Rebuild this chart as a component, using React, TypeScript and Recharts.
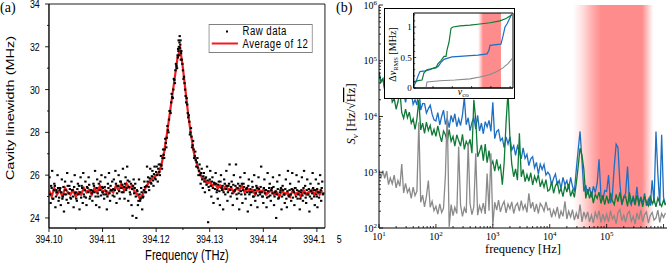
import {
  ComposedChart, LineChart, Line, Scatter, XAxis, YAxis, ReferenceArea,
} from 'recharts';

const SANS = "'Liberation Sans', Arial, sans-serif";
const SERIF = "'Liberation Serif', 'Times New Roman', serif";
// panel (a) looks horizontally squeezed in the source figure
const SQUEEZE = 0.77;

const RED = '#f21c1c';
const BLUE = '#1c6fc2';
const GREEN = '#0f7a36';
const GRAY = '#8a8a8a';
const BAND = '#ff8c8c';

// ---------- (a) cavity linewidth ----------
const avgFreq = [
  394.1, 394.1005, 394.101, 394.1015, 394.102, 394.1025, 394.103, 394.1035, 394.104, 394.1045,
  394.105, 394.1055, 394.106, 394.1065, 394.107, 394.1075, 394.108, 394.1085, 394.109, 394.1095,
  394.11, 394.1105, 394.111, 394.1115, 394.112, 394.1125, 394.113, 394.1135, 394.114, 394.1145,
  394.115, 394.1155, 394.116, 394.1165, 394.117, 394.1175, 394.118, 394.1185, 394.119, 394.1195,
  394.12, 394.1205, 394.121, 394.1215, 394.122, 394.1225, 394.123, 394.1235, 394.124, 394.1245,
  394.125, 394.1255, 394.126, 394.1265, 394.127, 394.1275, 394.128, 394.1285, 394.129, 394.1295,
  394.13, 394.1305, 394.131, 394.1315, 394.132, 394.1325, 394.133, 394.1335, 394.134, 394.1345,
  394.135, 394.1355, 394.136, 394.1365, 394.137, 394.1375, 394.138, 394.1385, 394.139, 394.1395,
  394.14, 394.1405, 394.141, 394.1415, 394.142, 394.1425, 394.143, 394.1435, 394.144, 394.1445,
  394.145, 394.1455, 394.146, 394.1465, 394.147, 394.1475, 394.148, 394.1485, 394.149, 394.1495,
  394.15, 394.1505, 394.151,
];
const avgWidth = [
  25.3, 25.0, 25.4, 25.1, 25.3, 25.0, 25.4, 25.2, 25.1, 25.3,
  25.0, 25.2, 25.1, 25.4, 25.2, 25.3, 25.1, 25.4, 25.2, 25.5,
  25.2, 25.3, 25.1, 25.3, 25.2, 25.5, 25.3, 25.6, 25.3, 25.6,
  25.4, 25.5, 25.2, 25.1, 24.9, 25.1, 25.4, 25.6, 25.8, 25.9,
  26.0, 26.1, 26.5, 27.1, 27.9, 28.8, 29.7, 30.6, 31.5, 31.9,
  31.0, 29.9, 28.8, 27.9, 27.1, 26.6, 26.2, 25.9, 25.8, 25.6,
  25.7, 25.5, 25.6, 25.4, 25.5, 25.3, 25.5, 25.3, 25.4, 25.2,
  25.4, 25.3, 25.5, 25.2, 25.4, 25.2, 25.3, 25.1, 25.4, 25.2,
  25.3, 25.1, 25.2, 25.3, 25.1, 25.2, 25.0, 25.3, 25.1, 25.2,
  25.0, 25.3, 25.1, 25.2, 25.0, 25.3, 25.1, 25.2, 25.3, 25.1,
  25.3, 25.1, 25.3,
];

// raw points: spread-out samples first, then samples close to the average
const rawFreq = [
  394.1001, 394.1003, 394.1004, 394.1006, 394.1008, 394.101, 394.1012, 394.1014, 394.1016, 394.1018,
  394.1021, 394.1022, 394.1024, 394.1026, 394.1028, 394.103, 394.1032, 394.1034, 394.1036, 394.1038,
  394.1041, 394.1042, 394.1044, 394.1046, 394.1048, 394.105, 394.1052, 394.1054, 394.1057, 394.1059,
  394.1061, 394.1063, 394.1064, 394.1066, 394.1068, 394.107, 394.1072, 394.1074, 394.1076, 394.1078,
  394.1081, 394.1083, 394.1085, 394.1086, 394.1088, 394.109, 394.1092, 394.1094, 394.1096, 394.1098,
  394.1101, 394.1103, 394.1105, 394.1106, 394.1108, 394.111, 394.1112, 394.1114, 394.1116, 394.1118,
  394.1121, 394.1122, 394.1124, 394.1126, 394.1128, 394.113, 394.1132, 394.1134, 394.1136, 394.1138,
  394.1141, 394.1143, 394.1145, 394.1146, 394.1148, 394.115, 394.1152, 394.1154, 394.1156, 394.1158,
  394.1161, 394.1163, 394.1164, 394.1166, 394.1168, 394.117, 394.1172, 394.1174, 394.1176, 394.1178,
  394.1181, 394.1183, 394.1185, 394.1187, 394.1189, 394.1191, 394.1193, 394.1195, 394.1197, 394.1199,
  394.1201, 394.1203, 394.1205, 394.1207, 394.1209, 394.1211, 394.1213, 394.1215, 394.1217, 394.1219,
  394.1221, 394.1223, 394.1225, 394.1227, 394.1229, 394.1231, 394.1233, 394.1235, 394.1237, 394.1239,
  394.1241, 394.1242, 394.1243, 394.1244, 394.1245, 394.1246, 394.1247, 394.1249, 394.1252, 394.1255,
  394.1257, 394.1259, 394.1261, 394.1263, 394.1265, 394.1267, 394.1269, 394.1271, 394.1273, 394.1275,
  394.1277, 394.1279, 394.1281, 394.1283, 394.1285, 394.1287, 394.1289, 394.1291, 394.1293, 394.1295,
  394.1297, 394.1299, 394.1301, 394.1303, 394.1305, 394.1307, 394.1309, 394.1311, 394.1313, 394.1315,
  394.1317, 394.1319, 394.1321, 394.1323, 394.1325, 394.1327, 394.1329, 394.1331, 394.1333, 394.1335,
  394.1337, 394.1339, 394.1341, 394.1343, 394.1345, 394.1347, 394.1349, 394.1351, 394.1353, 394.1355,
  394.1357, 394.1359, 394.1361, 394.1363, 394.1365, 394.1367, 394.1369, 394.1371, 394.1373, 394.1375,
  394.1377, 394.1379, 394.1381, 394.1383, 394.1385, 394.1387, 394.1389, 394.1391, 394.1393, 394.1396,
  394.1398, 394.14, 394.1402, 394.1404, 394.1406, 394.1408, 394.141, 394.1412, 394.1414, 394.1416,
  394.1418, 394.142, 394.1422, 394.1424, 394.1426, 394.1428, 394.143, 394.1432, 394.1434, 394.1436,
  394.1438, 394.144, 394.1442, 394.1444, 394.1446, 394.1448, 394.145, 394.1452, 394.1454, 394.1456,
  394.1458, 394.146, 394.1462, 394.1464, 394.1466, 394.1468, 394.147, 394.1472, 394.1474, 394.1476,
  394.1478, 394.148, 394.1482, 394.1484, 394.1486, 394.1488, 394.149, 394.1492, 394.1494, 394.1496,
  394.1498, 394.15, 394.1501, 394.1503, 394.1505, 394.1506, 394.1508, 394.1509, 394.151, 394.1511,
  394.1002, 394.1005, 394.1007, 394.1009, 394.1011, 394.1013, 394.1015, 394.1017, 394.1019, 394.102,
  394.1023, 394.1025, 394.1027, 394.1029, 394.1031, 394.1033, 394.1035, 394.1037, 394.1039, 394.104,
  394.1043, 394.1045, 394.1047, 394.1049, 394.1051, 394.1053, 394.1055, 394.1056, 394.1058, 394.106,
  394.1062, 394.1065, 394.1067, 394.1069, 394.1071, 394.1073, 394.1075, 394.1077, 394.1079, 394.108,
  394.1082, 394.1084, 394.1087, 394.1089, 394.1091, 394.1093, 394.1095, 394.1097, 394.1099, 394.11,
  394.1102, 394.1104, 394.1107, 394.1109, 394.1111, 394.1113, 394.1115, 394.1117, 394.1119, 394.112,
  394.1123, 394.1125, 394.1127, 394.1129, 394.1131, 394.1133, 394.1135, 394.1137, 394.1139, 394.114,
  394.1142, 394.1144, 394.1147, 394.1149, 394.1151, 394.1153, 394.1155, 394.1157, 394.1159, 394.116,
  394.1162, 394.1165, 394.1167, 394.1169, 394.1171, 394.1173, 394.1175, 394.1177, 394.1179, 394.118,
  394.1182, 394.1184, 394.1186, 394.1188, 394.119, 394.1192, 394.1194, 394.1196, 394.1198, 394.12,
  394.1202, 394.1204, 394.1206, 394.1208, 394.121, 394.1212, 394.1214, 394.1216, 394.1218, 394.122,
  394.1222, 394.1224, 394.1226, 394.1228, 394.123, 394.1232, 394.1234, 394.1236, 394.1238, 394.124,
  394.12405, 394.12415, 394.12425, 394.12435, 394.12445, 394.12455, 394.12465, 394.1248, 394.125, 394.1251,
  394.1253, 394.1254, 394.1256, 394.1258, 394.126, 394.1262, 394.1264, 394.1266, 394.1268, 394.127,
  394.1272, 394.1274, 394.1276, 394.1278, 394.128, 394.1282, 394.1284, 394.1286, 394.1288, 394.129,
  394.1292, 394.1294, 394.1296, 394.1298, 394.13, 394.1302, 394.1304, 394.1306, 394.1308, 394.131,
  394.1312, 394.1314, 394.1316, 394.1318, 394.132, 394.1322, 394.1324, 394.1326, 394.1328, 394.133,
  394.1332, 394.1334, 394.1336, 394.1338, 394.134, 394.1342, 394.1344, 394.1346, 394.1348, 394.135,
  394.1352, 394.1354, 394.1356, 394.1358, 394.136, 394.1362, 394.1364, 394.1366, 394.1368, 394.137,
  394.1372, 394.1374, 394.1376, 394.1378, 394.138, 394.1382, 394.1384, 394.1386, 394.1388, 394.139,
  394.1392, 394.1394, 394.1395, 394.1397, 394.1399, 394.1401, 394.1403, 394.1405, 394.1407, 394.1409,
  394.1411, 394.1413, 394.1415, 394.1417, 394.1419, 394.1421, 394.1423, 394.1425, 394.1427, 394.1429,
  394.1431, 394.1433, 394.1435, 394.1437, 394.1439, 394.1441, 394.1443, 394.1445, 394.1447, 394.1449,
  394.1451, 394.1453, 394.1455, 394.1457, 394.1459, 394.1461, 394.1463, 394.1465, 394.1467, 394.1469,
  394.1471, 394.1473, 394.1475, 394.1477, 394.1479, 394.1481, 394.1483, 394.1485, 394.1487, 394.1489,
  394.1491, 394.1493, 394.1495, 394.1497, 394.1499, 394.15005, 394.1502, 394.1504, 394.1507, 394.1512,
];
const rawWidth = [
  25.9, 24.7, 25.5, 26.2, 24.9, 25.6, 24.5, 25.3, 26.0, 24.8,
  25.4, 24.6, 25.8, 25.0, 24.3, 25.7, 25.1, 26.1, 24.7, 25.5,
  24.9, 25.7, 25.3, 24.5, 26.0, 25.2, 24.8, 25.6, 24.4, 25.9,
  25.5, 24.7, 26.1, 25.0, 25.7, 24.6, 25.4, 25.9, 24.9, 25.3,
  24.8, 25.6, 25.2, 26.2, 24.6, 25.8, 25.0, 24.5, 25.7, 26.0,
  25.4, 24.9, 25.9, 25.1, 24.4, 25.6, 26.1, 24.8, 25.3, 25.7,
  25.8, 25.0, 26.2, 24.7, 25.5, 26.0, 24.9, 25.7, 25.2, 26.3,
  24.9, 25.9, 25.4, 26.4, 24.8, 25.7, 25.1, 24.6, 24.1, 25.8,
  25.6, 24.0, 25.3, 24.6, 25.8, 24.8, 25.4, 24.4, 25.0, 25.7,
  25.2, 26.4, 25.9, 25.3, 26.3, 25.6, 26.2, 25.5, 26.4, 25.8,
  26.4, 25.7, 26.5, 26.0, 26.9, 26.3, 27.2, 26.8, 27.7, 27.3,
  28.3, 28.0, 29.0, 28.9, 29.8, 29.6, 30.5, 30.3, 31.2, 31.0,
  31.9, 32.3, 31.6, 32.5, 32.1, 31.4, 31.8, 31.2, 30.6, 29.7,
  29.6, 28.9, 28.8, 27.9, 28.2, 27.3, 27.6, 26.8, 27.1, 26.4,
  26.8, 26.0, 26.5, 25.6, 26.3, 25.4, 26.1, 25.2, 25.9, 26.4,
  23.8, 25.3, 26.2, 25.0, 25.9, 24.7, 25.6, 26.1, 25.2, 24.9,
  25.7, 24.6, 26.0, 25.3, 24.4, 25.8, 25.1, 26.2, 24.8, 25.5,
  26.5, 25.0, 25.7, 24.6, 26.0, 25.3, 26.5, 24.9, 25.6, 24.4,
  25.9, 25.1, 24.7, 25.6, 26.1, 24.9, 25.4, 24.3, 25.8, 25.2,
  24.6, 25.7, 25.0, 26.0, 24.8, 25.5, 24.5, 25.9, 25.2, 26.4,
  25.0, 24.7, 25.8, 25.3, 24.5, 26.1, 25.0, 25.6, 24.8, 25.4,
  25.9, 24.6, 25.2, 24.0, 25.7, 24.9, 26.0, 25.3, 24.4, 25.5,
  25.1, 24.7, 25.8, 24.5, 26.2, 25.0, 25.6, 24.8, 26.1, 25.3,
  24.6, 25.4, 26.0, 24.9, 25.7, 24.4, 25.2, 25.9, 24.8, 26.2,
  25.5, 24.7, 25.8, 25.1, 24.3, 25.6, 24.9, 26.1, 25.3, 24.6,
  25.8, 25.0, 24.5, 25.6, 25.2, 26.0, 24.8, 25.4, 25.7, 25.1,
  25.1, 25.4, 24.9, 25.3, 25.5, 25.0, 25.2, 25.4, 24.95, 25.3,
  25.2, 24.9, 25.45, 25.1, 25.3, 24.85, 25.5, 25.15, 25.35, 24.95,
  25.3, 25.0, 25.45, 25.15, 24.9, 25.35, 25.1, 25.5, 25.2, 24.95,
  25.4, 25.1, 25.3, 24.95, 25.45, 25.2, 25.55, 25.0, 25.3, 25.15,
  25.25, 25.5, 25.0, 25.4, 25.15, 25.6, 25.3, 25.05, 25.45, 25.2,
  25.1, 25.45, 25.25, 25.0, 25.4, 25.15, 25.5, 25.3, 25.05, 25.35,
  25.3, 25.6, 25.15, 25.5, 25.25, 25.7, 25.4, 25.55, 25.2, 25.45,
  25.6, 25.3, 25.75, 25.45, 25.2, 25.6, 25.35, 25.5, 25.15, 25.4,
  25.0, 25.25, 24.8, 25.1, 24.9, 25.2, 24.95, 25.3, 25.45, 25.2,
  25.5, 25.7, 25.45, 25.85, 25.65, 25.95, 25.75, 26.05, 25.85, 26.15,
  26.0, 26.3, 26.15, 26.5, 26.45, 26.8, 26.95, 27.2, 27.5, 27.75,
  28.1, 28.6, 29.0, 29.4, 29.65, 30.0, 30.45, 30.9, 31.1, 31.6,
  31.5, 31.8, 32.0, 32.2, 31.95, 32.3, 31.7, 31.4, 30.9, 30.5,
  30.3, 30.0, 29.4, 29.3, 28.7, 28.5, 28.0, 27.8, 27.4, 27.2,
  26.9, 26.7, 26.6, 26.35, 26.2, 26.0, 26.1, 25.8, 25.95, 25.7,
  25.85, 25.55, 25.75, 25.45, 25.8, 25.5, 25.7, 25.4, 25.65, 25.35,
  25.6, 25.3, 25.55, 25.25, 25.7, 25.4, 25.5, 25.2, 25.6, 25.35,
  25.5, 25.2, 25.6, 25.3, 25.45, 25.15, 25.55, 25.25, 25.5, 25.1,
  25.4, 25.15, 25.5, 25.25, 25.6, 25.3, 25.45, 25.1, 25.35, 25.2,
  25.5, 25.1, 25.35, 25.2, 25.45, 25.0, 25.3, 25.15, 25.4, 25.05,
  25.35, 25.1, 25.45, 25.2, 25.0, 25.4, 25.15, 25.3, 24.95, 25.25,
  25.4, 25.05, 25.3, 25.15, 25.45, 25.0, 25.25, 25.1, 25.35, 24.95,
  25.2, 25.4, 25.0, 25.3, 25.1, 25.35, 24.9, 25.25, 25.05, 25.3,
  25.1, 25.35, 24.95, 25.2, 25.4, 25.0, 25.3, 25.1, 25.25, 24.9,
  25.3, 25.05, 25.4, 25.15, 24.95, 25.3, 25.1, 25.35, 25.0, 25.25,
  25.15, 25.4, 25.0, 25.3, 25.1, 25.35, 25.2, 24.95, 25.3, 25.15,
];

const aFreqTicks = [394.1, 394.105, 394.11, 394.115, 394.12, 394.125, 394.13, 394.135, 394.14, 394.145, 394.15];
const aWidthTicks = [24, 25, 26, 27, 28, 29, 30, 31, 32, 33, 34];

// ---------- (b) frequency noise spectra ----------
const freqHz = [
  10, 10.8, 11.7, 12.6, 13.6, 14.7, 15.8, 17.1, 18.5, 20, 21.5, 23.3, 25.1, 27.1, 29.3, 31.6, 34.1, 36.9, 39.8, 43, 46.4, 50.1, 54.1, 58.4, 63.1, 68.1, 73.6, 79.4, 85.8, 92.6,
  100, 108, 117, 126, 136, 147, 158, 171, 185, 200, 215, 233, 251, 271, 293, 316, 341, 369, 398, 430, 464, 501, 541, 584, 631, 681, 736, 794, 858, 926,
  1000, 1080, 1170, 1260, 1360, 1470, 1580, 1710, 1850, 2000, 2150, 2330, 2510, 2710, 2930, 3160, 3410, 3690, 3980, 4300, 4640, 5010, 5410, 5840, 6310, 6810, 7360, 7940, 8580, 9260,
  1e4, 1.08e4, 1.17e4, 1.26e4, 1.36e4, 1.47e4, 1.58e4, 1.71e4, 1.85e4, 2e4, 2.15e4, 2.33e4, 2.51e4, 2.71e4, 2.93e4, 3.16e4, 3.41e4, 3.69e4, 3.98e4, 4.3e4, 4.64e4, 5.01e4, 5.41e4, 5.84e4, 6.31e4, 6.81e4, 7.36e4, 7.94e4, 8.58e4, 9.26e4,
  1e5, 1.08e5, 1.17e5, 1.26e5, 1.36e5, 1.47e5, 1.58e5, 1.71e5, 1.85e5, 2e5, 2.15e5, 2.33e5, 2.51e5, 2.71e5, 2.93e5, 3.16e5, 3.41e5, 3.69e5, 3.98e5, 4.3e5, 4.64e5, 5.01e5, 5.41e5, 5.84e5, 6.31e5, 6.81e5, 7.36e5, 7.94e5, 8.58e5, 9.26e5,
  1e6, 1.08e6,
];
const psdBlue = [
  60000, 43000, 48000, 32000, 51000, 40000, 32000, 48000, 31000, 25000, 34000, 35000, 24000, 27000, 18000, 27000, 22000, 27000, 16500, 20000, 16000, 35000, 13000, 17000, 17000, 11500, 13800, 16000, 11000, 8700,
  8300, 11700, 7100, 10000, 13000, 7200, 9300, 6300, 10500, 7900, 11200, 6600, 9100, 6900, 10700, 22000, 7100, 9500, 5600, 7800, 9500, 6000, 10500, 5500, 7600, 4900, 8100, 6500, 8500, 5400,
  18000, 4000, 5400, 5800, 3700, 4100, 2750, 4300, 3200, 4300, 2500, 3000, 2000, 2950, 2350, 1740, 2750, 1780, 2100, 1320, 1740, 1900, 1200, 1500, 930, 1400, 1120, 1380, 890, 1000,
  890, 590, 780, 930, 600, 710, 510, 810, 590, 710, 500, 810, 560, 450, 1120, 2500, 5400, 1600, 450, 590, 400, 540, 355, 560, 430, 630, 1700, 380, 325, 470,
  450, 890, 280, 390, 1260, 3200, 2800, 630, 257, 370, 410, 1260, 310, 257, 380, 270, 550, 245, 365, 275, 420, 250, 330, 250, 720, 275, 5400, 950, 250, 4700,
  355, 263,
];
const psdGreen = [
  63000, 41000, 47000, 29500, 38000, 26300, 32400, 18200, 20900, 13500, 18200, 28000, 11700, 9300, 13500, 9500, 12000, 7600, 9100, 5900, 9100, 20000, 5750, 7600, 5000, 7900, 5600, 6900, 4600, 5900,
  4400, 6800, 4600, 3500, 5500, 4700, 3500, 5800, 3600, 4400, 2950, 4700, 3700, 2950, 4800, 2570, 3600, 3000, 3900, 2200, 20000, 8900, 1900, 2350, 3100, 1620, 3200, 1480, 2450, 1320,
  1580, 1050, 1700, 1120, 1320, 600, 1450, 7900, 28000, 4000, 1410, 830, 1150, 720, 5000, 830, 1120, 680, 910, 690, 980, 590, 850, 680, 910, 550, 710, 540, 740, 460,
  490, 680, 420, 575, 660, 430, 510, 365, 575, 440, 620, 370, 470, 355, 630, 1260, 2700, 2000, 1120, 340, 500, 340, 450, 280, 400, 340, 440, 275, 390, 263,
  380, 275, 425, 310, 263, 400, 295, 435, 270, 345, 370, 245, 435, 290, 340, 257, 390, 275, 355, 240, 365, 290, 250, 380, 270, 330, 240, 345, 280, 245,
  315, 257,
];
const psdGray = [
  1100, 780, 1070, 780, 1050, 600, 790, 620, 890, 525, 710, 560, 1400, 425, 630, 435, 510, 340, 540, 380, 460, 7900, 290, 390, 240, 370, 710, 235, 300, 205,
  245, 178, 270, 190, 225, 890, 12600, 105, 263, 166, 235, 182, 2900, 257, 162, 230, 186, 3300, 275, 174, 240, 2200, 170, 250, 195, 280, 178, 950, 205, 2200,
  112, 290, 210, 316, 195, 257, 300, 186, 270, 220, 295, 182, 250, 280, 200, 310, 214, 263, 190, 420, 225, 290, 195, 270, 182, 275, 245, 200, 295, 210,
  225, 155, 210, 170, 240, 148, 200, 162, 300, 145, 200, 158, 214, 138, 186, 145, 263, 129, 195, 151, 195, 129, 170, 123, 190, 151, 204, 126, 178, 135,
  178, 129, 204, 145, 166, 120, 190, 214, 135, 170, 126, 182, 200, 132, 162, 117, 186, 141, 209, 129, 174, 195, 123, 166, 190, 138, 151, 209, 126, 182,
  155, 186,
];

const freqMajorTicks = [10, 100, 1000, 1e4, 1e5, 1e6];
const freqMinorTicks = [
  20, 30, 40, 50, 60, 70, 80, 90, 200, 300, 400, 500, 600, 700, 800, 900,
  2000, 3000, 4000, 5000, 6000, 7000, 8000, 9000, 2e4, 3e4, 4e4, 5e4, 6e4, 7e4, 8e4, 9e4,
  2e5, 3e5, 4e5, 5e5, 6e5, 7e5, 8e5, 9e5,
];
const psdMajorTicks = [100, 1000, 1e4, 1e5, 1e6];
const psdMinorTicks = [
  200, 300, 400, 500, 600, 700, 800, 900, 2000, 3000, 4000, 5000, 6000, 7000, 8000, 9000,
  2e4, 3e4, 4e4, 5e4, 6e4, 7e4, 8e4, 9e4, 2e5, 3e5, 4e5, 5e5, 6e5, 7e5, 8e5, 9e5,
];

// inset: integrated RMS vs cut-off
const rmsGreenFreq = [10, 17, 27, 34, 49, 89, 143, 182, 260, 372, 472, 531, 675, 857, 1087, 2500, 8260, 27200, 90000, 295000, 605000, 1240000];
const rmsGreen = [0.10, 0.12, 0.13, 0.25, 0.30, 0.32, 0.33, 0.40, 0.45, 0.52, 0.52, 0.62, 0.75, 0.98, 1.00, 1.02, 1.03, 1.05, 1.07, 1.10, 1.14, 1.20];
const rmsBlueFreq = [10, 13, 17, 21, 38, 70, 113, 182, 260, 372, 598, 965, 2500, 8260, 21500, 63000, 80000, 90000, 184000, 333000, 424000, 540000, 680000, 870000, 1240000];
const rmsBlue = [0.03, 0.10, 0.20, 0.27, 0.28, 0.30, 0.33, 0.35, 0.42, 0.47, 0.49, 0.51, 0.52, 0.53, 0.54, 0.56, 0.62, 0.70, 0.71, 0.72, 0.85, 1.00, 1.05, 1.12, 1.22];
const rmsGrayFreq = [10, 43, 49, 231, 1380, 8260, 27200, 90000, 207000, 424000, 770000, 1240000];
const rmsGray = [0, 0, 0.10, 0.12, 0.13, 0.15, 0.18, 0.22, 0.27, 0.33, 0.40, 0.48];
const rmsTicks = [0, 0.1, 0.2, 0.3, 0.4, 0.5, 0.6, 0.7, 0.8, 0.9, 1, 1.1, 1.2];
const rmsMajorTicks = [0, 0.5, 1];

const AXIS = { stroke: '#000', strokeWidth: 1 };

// ---------- tick renderers ----------
function aFreqTick({ x, y, payload, index }: any) {
  const axisY = y - 7;
  const major = index % 2 === 0;
  const label = payload.value.toFixed(2);
  const last = index === aFreqTicks.length - 1;
  const t = { fontSize: 11.5, fontFamily: SANS, fill: '#000' };
  return (
    <g>
      <line x1={x} x2={x} y1={axisY} y2={axisY + (major ? 4 : 2)} stroke="#000" />
      {major && !last && <text x={x} y={y} dy="0.71em" textAnchor="middle" {...t}>{label}</text>}
      {last && <text x={x - 17.6} y={y} dy="0.71em" textAnchor="start" {...t}>{label.slice(0, 5)}</text>}
      {last && <text x={x + 25.7} y={y} dy="0.71em" textAnchor="start" {...t}>{label.slice(5)}</text>}
    </g>
  );
}

function aWidthTick({ x, y, payload }: any) {
  const axisX = x + 12;
  const major = payload.value % 2 === 0;
  return (
    <g>
      <line x1={axisX - (major ? 5 : 2.5)} x2={axisX} y1={y} y2={y} stroke="#000" />
      {major && (
        <text x={x} y={y} dy="0.36em" textAnchor="end" fontSize={11.5} fontFamily={SANS} fill="#000">{payload.value}</text>
      )}
    </g>
  );
}

const expOf = (v: number) => Math.round(Math.log10(v));

function bFreqTick({ x, y, payload }: any) {
  const v = payload.value;
  const major = freqMajorTicks.includes(v);
  const axisY = y - 4;
  return (
    <g>
      <line x1={x} x2={x} y1={axisY} y2={axisY - (major ? 4 : 2)} stroke="#000" strokeWidth={0.8} />
      {major && v < 1e6 && (
        <text x={x} y={y} textAnchor="middle" fontSize={10} fontFamily={SERIF} fill="#000">
          <tspan dy="0.75em">10</tspan>
          <tspan dy="-0.45em" fontSize={7}>{expOf(v)}</tspan>
        </text>
      )}
    </g>
  );
}

function bFreqTopTick({ x, y, payload }: any) {
  const major = freqMajorTicks.includes(payload.value);
  return <line x1={x} x2={x} y1={y} y2={y + (major ? 4 : 2)} stroke="#000" strokeWidth={0.8} />;
}

function bPsdTick({ x, y, payload }: any) {
  const v = payload.value;
  const major = psdMajorTicks.includes(v);
  const axisX = x + 2;
  return (
    <g>
      <line x1={axisX} x2={axisX + (major ? 4 : 2)} y1={y} y2={y} stroke="#000" strokeWidth={0.8} />
      {major && (
        <text x={x} y={y} textAnchor="end" fontSize={10} fontFamily={SERIF} fill="#000">
          <tspan dy="0.35em">10</tspan>
          <tspan dy="-0.45em" fontSize={7}>{expOf(v)}</tspan>
        </text>
      )}
    </g>
  );
}

function bPsdRightTick({ x, y, payload }: any) {
  const major = psdMajorTicks.includes(payload.value);
  return <line x1={x - (major ? 4 : 2)} x2={x} y1={y} y2={y} stroke="#000" strokeWidth={0.8} />;
}

function rmsTick({ x, y, payload }: any) {
  const v = payload.value;
  const major = rmsMajorTicks.includes(v);
  const axisX = x + 2;
  return (
    <g>
      <line x1={axisX} x2={axisX + (major ? 2.5 : 1.5)} y1={y} y2={y} stroke="#000" strokeWidth={0.7} />
      {major && (
        <text x={x} y={y} dy="0.36em" textAnchor="end" fontSize={9} fontFamily={SERIF} fill="#000">{v}</text>
      )}
    </g>
  );
}

function rmsFreqTick({ x, y }: any) {
  return <line x1={x} x2={x} y1={y} y2={y - 2} stroke="#000" strokeWidth={0.7} />;
}

// ---------- panels ----------
function PanelA() {
  const avgData = avgFreq.map((f, i) => ({ f, w: avgWidth[i] }));
  const rawData = rawFreq.map((f, i) => ({ f, w: rawWidth[i] }));
  return (
    <div style={{ position: 'absolute', left: 0, top: 0, transform: `scaleX(${SQUEEZE})`, transformOrigin: '0 0' }}>
      <ComposedChart width={446} height={263} margin={{ top: 4, right: 24, bottom: 0, left: 0 }}>
        <XAxis
          dataKey="f" type="number" domain={[394.1, 394.1515]} allowDataOverflow
          ticks={aFreqTicks} interval={0} height={35} tickSize={4} tickMargin={3}
          tickLine={false} tick={aFreqTick} axisLine={AXIS}
          label={(p: any) => {
            const vb = p.viewBox || {};
            return (
              <text x={vb.x + vb.width / 2} y={vb.y + 32} textAnchor="middle" fontSize={14.5} fontFamily={SANS} fill="#000">
                Frequency (THz)
              </text>
            );
          }}
        />
        <YAxis
          type="number" domain={[23.53, 34]} allowDataOverflow ticks={aWidthTicks} interval={0}
          width={63.6} tickSize={5} tickMargin={7} tickLine={false} tick={aWidthTick} axisLine={AXIS}
          label={(p: any) => {
            const vb = p.viewBox || {};
            return (
              <text transform={`translate(${vb.x + 18},108) rotate(-90)`} textAnchor="middle" fontSize={14.5} fontFamily={SANS} fill="#000">
                Cavity linewidth (MHz)
              </text>
            );
          }}
        />
        <Scatter
          data={rawData} dataKey="w" isAnimationActive={false}
          shape={(p: any) => <rect x={p.cx - 1.5} y={p.cy - 1} width={3} height={2} fill="#000" />}
        />
        <Line data={avgData} dataKey="w" stroke={RED} strokeWidth={2.8} dot={false} isAnimationActive={false} />
        <ReferenceArea x1={394.1} x2={394.1515} y1={23.53} y2={34} fill="none" stroke="#000" strokeWidth={1} />
      </ComposedChart>
      <div style={{
        position: 'absolute', left: 271, top: 24, width: 135, height: 29, border: '1px solid #808080',
        background: '#fff', boxSizing: 'border-box', fontFamily: SANS, fontSize: 12.5, letterSpacing: 0.6, color: '#000',
      }}>
        <svg width={40} height={27} style={{ position: 'absolute', left: 0, top: 0 }}>
          <rect x={21.5} y={5.5} width={2.6} height={2} fill="#000" />
          <line x1={3} x2={37} y1={18.5} y2={18.5} stroke={RED} strokeWidth={2} />
        </svg>
        <span style={{ position: 'absolute', left: 43, top: 0, lineHeight: '13px', whiteSpace: 'nowrap' }}>Raw data</span>
        <span style={{ position: 'absolute', left: 43, top: 13, lineHeight: '13px', whiteSpace: 'nowrap' }}>Average of 12</span>
      </div>
    </div>
  );
}

function Inset() {
  const green = rmsGreenFreq.map((f, i) => ({ f, v: rmsGreen[i] }));
  const blue = rmsBlueFreq.map((f, i) => ({ f, v: rmsBlue[i] }));
  const gray = rmsGrayFreq.map((f, i) => ({ f, v: rmsGray[i] }));
  return (
    <div style={{
      position: 'absolute', left: 384, top: 8, width: 131, height: 91,
      border: '1px solid #000', background: '#fff', boxSizing: 'border-box',
    }}>
      <LineChart width={129} height={89} margin={{ top: 4, right: 1, bottom: 0, left: 0 }}>
        <defs>
          <linearGradient id="bandInset" x1="0" y1="0" x2="1" y2="0">
            <stop offset="0" stopColor={BAND} stopOpacity={0} />
            <stop offset="0.1" stopColor={BAND} stopOpacity={0.4} />
            <stop offset="0.22" stopColor={BAND} stopOpacity={1} />
            <stop offset="1" stopColor={BAND} stopOpacity={1} />
          </linearGradient>
        </defs>
        <XAxis
          dataKey="f" type="number" scale="log" domain={[10, 1.4e6]} allowDataOverflow
          ticks={freqMajorTicks} interval={0} height={10} tickSize={0} tickMargin={0}
          tickLine={false} tick={rmsFreqTick} axisLine={AXIS}
          label={(p: any) => {
            const vb = p.viewBox || {};
            return (
              <text x={vb.x + vb.width / 2} y={vb.y + 6.5} textAnchor="middle" fontSize={10} fontFamily={SERIF} fill="#000">
                <tspan fontStyle="italic">ν</tspan>
                <tspan fontSize={7} dy={2}>co</tspan>
              </text>
            );
          }}
        />
        <YAxis
          type="number" domain={[0, 1.23]} allowDataOverflow ticks={rmsTicks} interval={0}
          width={28.7} tickSize={0} tickMargin={2} tickLine={false} tick={rmsTick} axisLine={AXIS}
          label={(p: any) => {
            const vb = p.viewBox || {};
            return (
              <text transform={`translate(${vb.x + 10.5},45.5) rotate(-90)`} textAnchor="middle" fontSize={10} fontFamily={SERIF} fill="#000">
                <tspan>Δ</tspan>
                <tspan fontStyle="italic">ν</tspan>
                <tspan fontSize={6.5} dy={2}>RMS</tspan>
                <tspan dy={-2}> [MHz]</tspan>
              </text>
            );
          }}
        />
        <ReferenceArea x1={21500} x2={333000} fill="url(#bandInset)" fillOpacity={1} stroke="none" />
        <Line data={gray} dataKey="v" stroke={GRAY} strokeWidth={1.1} dot={false} isAnimationActive={false} />
        <Line data={blue} dataKey="v" stroke={BLUE} strokeWidth={1.2} dot={false} isAnimationActive={false} />
        <Line data={green} dataKey="v" stroke={GREEN} strokeWidth={1.2} dot={false} isAnimationActive={false} />
        <ReferenceArea x1={10} x2={1.4e6} y1={0} y2={1.23} fill="none" stroke="#000" strokeWidth={1} />
      </LineChart>
    </div>
  );
}

function PanelB() {
  const psdData = freqHz.map((f, i) => ({ f, blue: psdBlue[i], green: psdGreen[i], gray: psdGray[i] }));
  const freqTicks = [...freqMajorTicks, ...freqMinorTicks].sort((a, b) => a - b);
  const psdTicks = [...psdMajorTicks, ...psdMinorTicks].sort((a, b) => a - b);
  return (
    <div style={{ position: 'absolute', left: 330, top: 0 }}>
      <ComposedChart width={337} height={263} data={psdData} margin={{ top: 5, right: 0, bottom: 0, left: 0 }}>
        <defs>
          <linearGradient id="bandMain" x1="0" y1="0" x2="1" y2="0">
            <stop offset="0" stopColor={BAND} stopOpacity={0} />
            <stop offset="0.12" stopColor={BAND} stopOpacity={0.3} />
            <stop offset="0.25" stopColor={BAND} stopOpacity={0.75} />
            <stop offset="0.35" stopColor={BAND} stopOpacity={1} />
            <stop offset="0.86" stopColor={BAND} stopOpacity={1} />
            <stop offset="0.93" stopColor={BAND} stopOpacity={0.5} />
            <stop offset="1" stopColor={BAND} stopOpacity={0} />
          </linearGradient>
        </defs>
        <XAxis
          dataKey="f" type="number" scale="log" domain={[10, 1.15e6]} allowDataOverflow
          ticks={freqTicks} interval={0} height={35} tickSize={0} tickMargin={4}
          tickLine={false} tick={bFreqTick} axisLine={AXIS}
          label={(p: any) => {
            const vb = p.viewBox || {};
            return (
              <text x={vb.x + vb.width / 2} y={vb.y + 25} textAnchor="middle" fontSize={12.5} fontFamily={SERIF} fill="#000">
                frequency [Hz]
              </text>
            );
          }}
        />
        <XAxis
          xAxisId="top" orientation="top" dataKey="f" type="number" scale="log" domain={[10, 1.15e6]} allowDataOverflow
          ticks={freqTicks} interval={0} height={0} tickSize={0} tickMargin={0}
          tickLine={false} tick={bFreqTopTick} axisLine={AXIS}
        />
        <YAxis
          type="number" scale="log" domain={[100, 1e6]} allowDataOverflow ticks={psdTicks} interval={0}
          width={49} tickSize={0} tickMargin={2} tickLine={false} tick={bPsdTick} axisLine={AXIS}
          label={(p: any) => {
            const vb = p.viewBox || {};
            return (
              <text transform={`translate(${vb.x + 25},114) rotate(-90)`} textAnchor="middle" fontSize={12.5} fontFamily={SERIF} fill="#000">
                <tspan fontStyle="italic">S</tspan>
                <tspan fontStyle="italic" fontSize={9} dy={3}>ν</tspan>
                <tspan dy={-3}>{'  [Hz/√'}</tspan>
                <tspan style={{ textDecoration: 'overline' }}>Hz</tspan>
                <tspan>]</tspan>
              </text>
            );
          }}
        />
        <YAxis
          yAxisId="right" orientation="right" type="number" scale="log" domain={[100, 1e6]} allowDataOverflow
          ticks={psdTicks} interval={0} width={0} tickSize={0} tickMargin={0} tickLine={false}
          tick={bPsdRightTick} axisLine={AXIS}
        />
        <ReferenceArea x1={26000} x2={660000} fill="url(#bandMain)" fillOpacity={1} stroke="none" />
        <Line dataKey="blue" stroke={BLUE} strokeWidth={1.3} dot={false} isAnimationActive={false} />
        <Line dataKey="green" stroke={GREEN} strokeWidth={1.3} dot={false} isAnimationActive={false} />
        <Line dataKey="gray" stroke={GRAY} strokeWidth={1.3} dot={false} isAnimationActive={false} />
      </ComposedChart>
    </div>
  );
}

export default function App() {
  return (
    <div style={{ position: 'relative', width: 668, height: 263, overflow: 'hidden', background: '#fff' }}>
      <style>{'body{margin:0;overflow:hidden}'}</style>
      <PanelA />
      <PanelB />
      <Inset />
      <span style={{ position: 'absolute', left: 0, top: 0, fontFamily: SERIF, fontSize: 14, lineHeight: '16px' }}>(a)</span>
      <span style={{ position: 'absolute', left: 336, top: 0, fontFamily: SERIF, fontSize: 14, lineHeight: '16px' }}>(b)</span>
    </div>
  );
}
